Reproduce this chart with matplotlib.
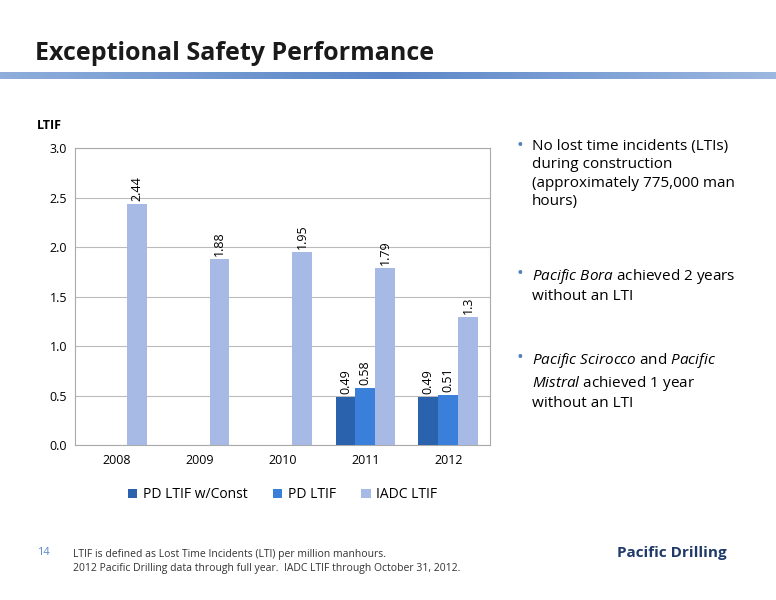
import matplotlib
matplotlib.use("Agg")
import matplotlib.pyplot as plt
import numpy as np

plt.rcParams["font.family"] = ["Open Sans", "DejaVu Sans"]
plt.rcParams["mathtext.fontset"] = "custom"
plt.rcParams["mathtext.rm"] = "Open Sans"
plt.rcParams["mathtext.it"] = "Open Sans:italic"

years = ["2008", "2009", "2010", "2011", "2012"]
pd_const = [None, None, None, 0.49, 0.49]
pd_ltif = [None, None, None, 0.58, 0.51]
iadc = [2.44, 1.88, 1.95, 1.79, 1.3]
iadc_labels = ["2.44", "1.88", "1.95", "1.79", "1.3"]
series_names = ["PD LTIF w/Const", "PD LTIF", "IADC LTIF"]
colors = ["#2A62AE", "#3A80DA", "#A7BAE5"]

fig = plt.figure(figsize=(7.76, 6.0), dpi=100)
fig.patch.set_facecolor("white")
fig.text(0.045, 0.9, "Exceptional Safety Performance", fontsize=18, fontweight="bold", color="#1a1a1a")
band = fig.add_axes([0, 0.868, 1, 0.012])
band.imshow(np.linspace(0, 1, 256)[None, :], aspect="auto", cmap=matplotlib.colors.LinearSegmentedColormap.from_list("b", ["#8FAEDB", "#5B86C8", "#9DB8E0"]))
band.axis("off")

ax = fig.add_axes([0.097, 0.258, 0.534, 0.495])
x = np.arange(len(years))
w = 0.24
for i, vals in enumerate([pd_const, pd_ltif, iadc]):
    idx = [k for k, v in enumerate(vals) if v is not None]
    xs = [x[k] + (i - 1) * w for k in idx]
    vs = [vals[k] for k in idx]
    ax.bar(xs, vs, w, color=colors[i], label=series_names[i], zorder=3)
    for k, xx, v in zip(idx, xs, vs):
        lab = iadc_labels[k] if i == 2 else f"{v:.2f}"
        ax.text(xx, v + 0.03, lab, rotation=90, ha="center", va="bottom", fontsize=9)
ax.set_ylim(0, 3.0)
ax.set_xlim(-0.5, 4.5)
ticks = np.arange(0, 3.01, 0.5)
ax.set_yticks(ticks)
ax.set_yticklabels([f"{v:.1f}" for v in ticks], fontsize=9)
ax.set_xticks(x)
ax.set_xticklabels(years, fontsize=9)
ax.grid(axis="y", color="#BBBBBB", lw=0.8, zorder=0)
ax.tick_params(length=0, pad=6)
for s in ax.spines.values():
    s.set_color("#AAAAAA")
ax.legend(loc="upper center", bbox_to_anchor=(0.5, -0.1), ncol=3, frameon=False, fontsize=10,
          handlelength=0.7, handleheight=0.7, columnspacing=1.8, handletextpad=0.4)
fig.text(0.047, 0.785, "LTIF", fontsize=9, fontweight="bold")

fs = 11
ls = 1.3
def bullet(y):
    fig.text(0.666, y + 0.004, "•", fontsize=13, color="#4F81BD", va="top")
bullet(0.768)
fig.text(0.685, 0.768, "No lost time incidents (LTIs)\nduring construction\n(approximately 775,000 man\nhours)", fontsize=fs, va="top", linespacing=ls)
bullet(0.555)
fig.text(0.685, 0.555, r"$\it{Pacific\ Bora}$ achieved 2 years" + "\nwithout an LTI", fontsize=fs, va="top", linespacing=ls)
bullet(0.415)
fig.text(0.685, 0.415, r"$\it{Pacific\ Scirocco}$ and $\it{Pacific}$" + "\n" + r"$\it{Mistral}$ achieved 1 year" + "\nwithout an LTI", fontsize=fs, va="top", linespacing=ls)

fig.text(0.048, 0.075, "14", fontsize=8, color="#5B86C8")
fig.text(0.094, 0.048, "LTIF is defined as Lost Time Incidents (LTI) per million manhours.\n2012 Pacific Drilling data through full year.  IADC LTIF through October 31, 2012.",
         fontsize=7.5, color="#333333", linespacing=1.35)
fig.text(0.795, 0.072, "Pacific Drilling", fontsize=11, fontweight="bold", color="#1F3A68")

fig.savefig("out.png", dpi=100)
